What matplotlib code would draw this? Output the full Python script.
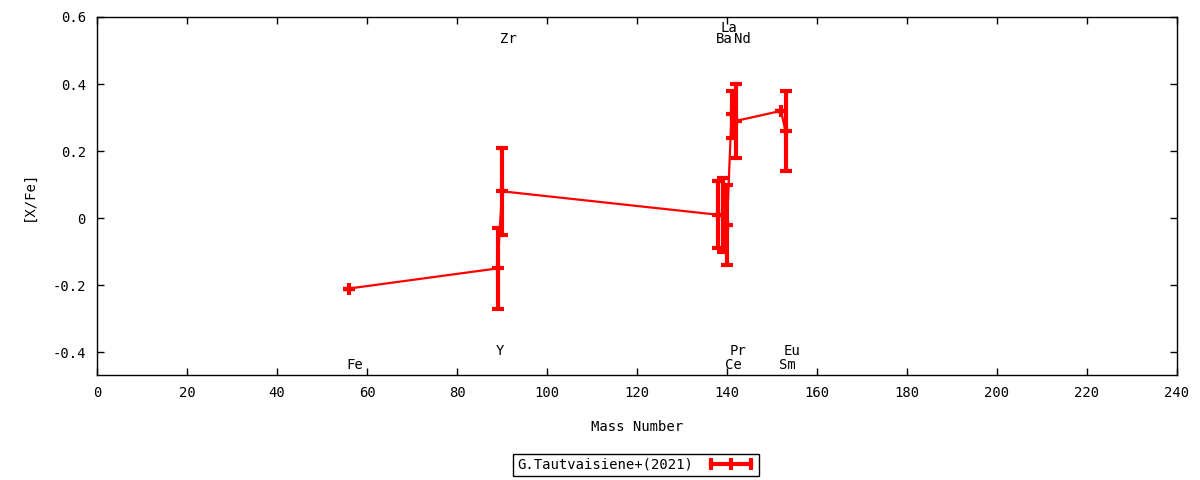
import matplotlib
matplotlib.use("Agg")
import matplotlib.pyplot as plt
from matplotlib.lines import Line2D
from matplotlib.ticker import FormatStrFormatter, MultipleLocator

plt.rcParams['font.family'] = ['DejaVu Sans Mono']
plt.rcParams['axes.unicode_minus'] = False

# abundance pattern, one point per element
elements = ['Fe', 'Y', 'Zr', 'Ba', 'La', 'Ce', 'Pr', 'Nd', 'Sm', 'Eu']
mass = [56, 89, 90, 138, 139, 140, 141, 142, 152, 153]
xfe = [-0.21, -0.15, 0.08, 0.01, 0.01, -0.02, 0.31, 0.29, 0.32, 0.26]
xfe_err = [0.0, 0.12, 0.13, 0.10, 0.11, 0.12, 0.07, 0.11, 0.0, 0.12]

# where the element names sit
label_y = [-0.439, -0.397, 0.535, 0.535, 0.567, -0.439, -0.397, 0.535, -0.439, -0.397]

red = '#ff0000'

fig = plt.figure(figsize=(12, 4.8), dpi=100)
ax = fig.add_axes([97 / 1200, 1 - 375 / 480, 1080 / 1200, 358 / 480])

ax.errorbar(mass, xfe, yerr=xfe_err, color=red, lw=1.6,
            elinewidth=3, capsize=4.5, capthick=3,
            marker='+', ms=9, mew=3)

for el, m, y in zip(elements, mass, label_y):
    ax.text(m - 0.5, y, el, ha='left', va='center', fontsize=10)

ax.set_xlim(0, 240)
ax.set_ylim(-0.468, 0.6)
ax.xaxis.set_major_locator(MultipleLocator(20))
ax.yaxis.set_major_locator(MultipleLocator(0.2))
ax.yaxis.set_major_formatter(FormatStrFormatter('%g'))
ax.tick_params(direction='in', top=True, right=True, length=5, width=1,
               labelsize=10, pad=8)
for s in ax.spines.values():
    s.set_linewidth(1)

ax.set_xlabel('Mass Number', fontsize=10, labelpad=14)
ax.set_ylabel('[X/Fe]', fontsize=10, labelpad=12)

handle = Line2D([0], [0], color=red, lw=3, marker='|', ms=9, mew=3)
leg = fig.legend([handle], ['G.Tautvaisiene+(2021)'], numpoints=3,
                 loc='center', bbox_to_anchor=(636 / 1200, 1 - 465 / 480),
                 markerfirst=False, fancybox=False, framealpha=1,
                 edgecolor='black', fontsize=10, handlelength=3.5,
                 borderpad=0.3, handletextpad=1.0, borderaxespad=0)
leg.get_frame().set_linewidth(1)

fig.savefig('out.png', dpi=100)
